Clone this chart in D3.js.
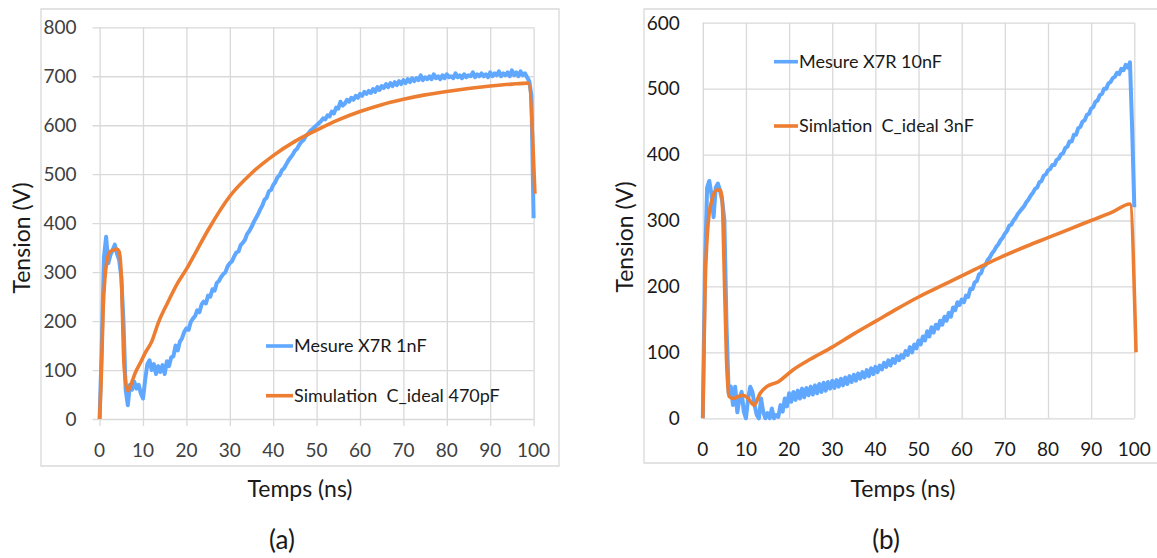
<!DOCTYPE html>
<html><head><meta charset="utf-8">
<script src="https://cdn.jsdelivr.net/npm/d3@7"></script>
<style>
body{margin:0;background:#fff}
svg{display:block}
text{font-family:Lato,"Open Sans",sans-serif}
</style>
</head><body>
<svg id="c" width="1157" height="558"></svg>
<script>
// ---------- data ----------
const xTicks = [0,10,20,30,40,50,60,70,80,90,100];
const yTicksA = [0,100,200,300,400,500,600,700,800];
const yTicksB = [0,100,200,300,400,500,600];
const xTitle = "Temps (ns)";
const yTitle = "Tension (V)";
const captionA = "(a)";
const captionB = "(b)";
const legendA = ["Mesure X7R 1nF", "Simulation  C_ideal 470pF"];
const legendB = ["Mesure X7R 10nF", "Simlation  C_ideal 3nF"];

// measured traces sampled every 0.5 ns (0 .. 100 ns)
const sampleStep = 0.5;
const measA_v = [
0,150,330,372,318,335,345,356,338,325,290,200,60,28,70,60,76,62,70,52,
42,80,112,120,100,112,92,108,96,110,92,118,108,126,128,150,140,158,165,178,
185,182,198,205,210,222,218,234,240,236,252,250,265,262,278,282,290,296,300,312,
318,322,332,340,342,355,360,366,378,384,392,402,410,418,428,436,448,452,465,468,
478,484,494,498,508,512,520,528,534,540,548,552,560,566,570,578,582,588,592,596,
600,604,608,614,612,620,618,628,624,636,634,648,640,644,652,648,656,652,660,656,
664,660,668,664,670,666,674,668,678,672,680,676,684,678,686,680,688,682,690,684,
692,686,694,688,696,690,696,692,702,692,698,694,700,694,704,696,700,694,702,696,
704,698,700,696,706,698,702,696,704,698,702,700,708,698,704,700,706,700,704,698,
708,700,706,702,710,700,706,702,708,700,712,702,708,700,710,702,706,698,690,660,
410];
const simA_t = [0,0.4,0.8,1.2,1.6,2.4,3.2,3.9,4.5,5.1,5.5,6.0,6.5,7.2,8.2,9.7,10.5,12.0,13.5,15.7,18,20,22,25,30,35,40,45,50,55,60,65,70,75,80,85,90,95,98.8,100.3];
const simA_v = [0,90,220,285,318,342,345,347,342,271,135,75,58,70,94,120,135,158,196,238,278,306,338,386,455,502,538,567,590,611,628,642,653,662,669,675,680,684,686,460];

const measB_v = [
0,230,350,360,340,305,350,356,345,330,300,140,38,48,20,48,9,30,40,10,
0,30,48,40,20,5,0,30,10,0,8,0,15,0,5,2,20,10,30,18,
38,25,40,28,42,30,45,32,46,35,48,36,50,38,52,40,54,42,55,45,
57,46,58,48,60,50,62,52,64,55,66,57,68,60,70,62,73,64,76,67,
78,70,80,74,84,78,88,80,90,84,94,88,96,92,102,96,108,100,112,106,
118,112,124,118,132,124,138,130,142,136,148,142,154,148,160,154,168,164,176,172,
180,176,186,184,196,196,206,208,218,220,230,232,240,244,250,254,260,264,270,274,
280,284,292,294,300,304,310,314,318,322,328,332,338,342,348,350,358,360,368,370,
376,378,384,384,392,394,400,402,410,412,420,420,430,430,440,442,450,452,460,462,
470,472,480,482,490,492,500,500,508,510,516,518,524,522,530,528,536,532,540,440,
320];
const simB_t = [0,0.5,1.3,2.1,3.2,4.1,4.5,4.9,5.5,6.1,7.1,8.2,9.4,10.5,11.9,13.3,14.8,17.4,20.8,25,30,35,40,45,50,55,60,65,70,75,80,85,90,95,99,100.4];
const simB_v = [0,189,300,331,346,346,331,240,88,33,30,33,35,30,20,38,48,55,73,90,108,128,147,166,184,200,216,232,247,261,274,287,300,313,325,100];

// ---------- drawing ----------
const svg = d3.select("#c");
const BLUE = "#5fa7ff", ORANGE = "#ed7d31", GRID = "#d9d9d9";

function drawChart(o) {
  const g = svg.append("g");
  g.append("path")
    .attr("d", o.frameRight
      ? `M${o.box[0]},${o.box[1]}H${o.box[2]}V${o.box[3]}H${o.box[0]}Z`
      : `M1157,${o.box[1]}H${o.box[0]}V${o.box[3]}H1157`)
    .attr("fill", "none").attr("stroke", GRID).attr("stroke-width", 1.3);

  const x = d3.scaleLinear().domain([0, 100]).range([o.px0, o.px1]);
  const y = d3.scaleLinear().domain([0, o.yMax]).range([o.py0, o.py1]);

  const ya = d3.axisLeft(y).tickValues(o.yTicks).tickSize(-(o.px1 - o.px0)).tickSizeOuter(0).tickFormat("");
  const gy = g.append("g").attr("transform", `translate(${o.px0},0)`).call(ya);
  gy.select(".domain").remove();
  gy.selectAll(".tick line").attr("stroke", GRID).attr("stroke-width", 1.3)
    .attr("x1", o.tick ? -7 : 0);
  const xa = d3.axisBottom(x).tickValues(xTicks).tickSize(-(o.py0 - o.py1)).tickSizeOuter(0).tickFormat("");
  const gx = g.append("g").attr("transform", `translate(0,${o.py0})`).call(xa);
  gx.select(".domain").remove();
  gx.selectAll(".tick line").attr("stroke", GRID).attr("stroke-width", 1.3)
    .attr("y1", o.tick ? 7 : 0);

  g.selectAll(".ylab").data(o.yTicks).enter().append("text")
    .attr("x", o.px0 - 23).attr("y", d => y(d)).attr("dy", "0.36em")
    .attr("text-anchor", "end").attr("font-size", 19).attr("fill", o.labColor)
    .text(d => d);
  g.selectAll(".xlab").data(xTicks).enter().append("text")
    .attr("x", d => x(d)).attr("y", o.xLabY).attr("dy", "0.36em")
    .attr("text-anchor", "middle").attr("font-size", 19).attr("fill", o.labColor)
    .text(d => d);

  g.append("text").attr("x", o.xTitleX).attr("y", o.xTitleY).attr("dy", "0.36em")
    .attr("text-anchor", "middle").attr("font-size", 23).attr("fill", "#1a1a1a").text(xTitle);
  g.append("text").attr("transform", `translate(${o.yTitleX},${o.yTitleY}) rotate(-90)`)
    .attr("dy", "0.36em").attr("text-anchor", "middle").attr("font-size", 23)
    .attr("fill", "#1a1a1a").text(yTitle);
  g.append("text").attr("x", o.capX).attr("y", 540).attr("dy", "0.36em")
    .attr("text-anchor", "middle").attr("font-size", 26).attr("fill", "#1a1a1a").text(o.caption);

  const meas = o.measV.map((v, i) => [i * sampleStep, v]);
  const sim = o.simT.map((t, i) => [t, o.simV[i]]);
  const line = d3.line().x(d => x(d[0])).y(d => y(d[1]));
  const smooth = d3.line().x(d => x(d[0])).y(d => y(d[1])).curve(d3.curveMonotoneX);
  g.append("path").datum(meas).attr("d", line).attr("fill", "none")
    .attr("stroke", BLUE).attr("stroke-width", 4).attr("stroke-linejoin", "round");
  g.append("path").datum(sim).attr("d", smooth).attr("fill", "none")
    .attr("stroke", ORANGE).attr("stroke-width", 3.6).attr("stroke-linejoin", "round");

  const cols = [BLUE, ORANGE];
  o.legend.forEach((txt, i) => {
    const ly = o.legY[i];
    g.append("line").attr("x1", o.legX0).attr("x2", o.legX1).attr("y1", ly).attr("y2", ly)
      .attr("stroke", cols[i]).attr("stroke-width", 3.6);
    g.append("text").attr("x", o.legX1 + 1).attr("y", ly).attr("dy", "0.36em")
      .attr("font-size", 18).attr("fill", "#1a1a1a").style("white-space", "pre").text(txt);
  });
}

drawChart({
  box: [41, 9, 559, 466], frameRight: true,
  px0: 99.6, px1: 533.6, py0: 419, py1: 27.3, yMax: 800, yTicks: yTicksA, tick: true,
  labColor: "#404040", xLabY: 450,
  xTitleX: 300, xTitleY: 489, yTitleX: 22, yTitleY: 238, capX: 282, caption: captionA,
  measV: measA_v, simT: simA_t, simV: simA_v,
  legend: legendA, legX0: 266, legX1: 293, legY: [346, 395.7]
});
drawChart({
  box: [644, 9, 1157, 463], frameRight: false,
  px0: 702.8, px1: 1134.3, py0: 418.3, py1: 22.7, yMax: 600, yTicks: yTicksB, tick: false,
  labColor: "#1a1a1a", xLabY: 449,
  xTitleX: 903, xTitleY: 489, yTitleX: 625, yTitleY: 237, capX: 886, caption: captionB,
  measV: measB_v, simT: simB_t, simV: simB_v,
  legend: legendB, legX0: 774, legX1: 798, legY: [61.7, 126]
});
</script>
</body></html>
